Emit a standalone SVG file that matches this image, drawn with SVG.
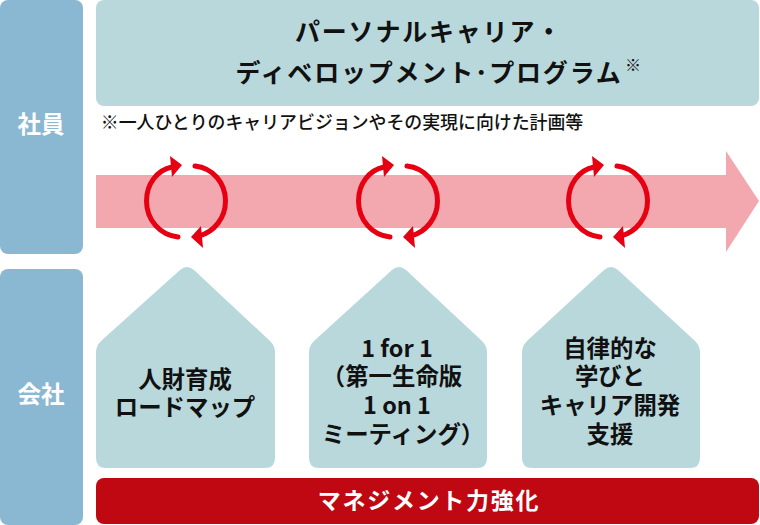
<svg xmlns="http://www.w3.org/2000/svg" width="760" height="525" viewBox="0 0 760 525">
<style>
text{font-family:"Noto Sans CJK JP","Noto Sans",sans-serif;font-weight:700;fill:#111;text-anchor:middle}
.side{fill:#fff;font-size:23.5px}
.pale{fill:#b9d8dc}
.blue{fill:#8ab8d2}
.nl{font-size:23.4px}
.arc{fill:none;stroke:#e60012;stroke-width:5;stroke-linecap:round}
.head{fill:#e60012}
</style>
<defs>
<g id="cycle">
<path class="arc" d="M178 237C160 235 146.5 220 146.5 201C146.5 184 157 170 172 167"/>
<path class="head" d="M170 156L182 165L172 177Z"/>
<path class="arc" d="M195 166C213 168 225.5 183 225.5 201C225.5 218 214 232 199 236"/>
<path class="head" d="M201 226L191 237L203 248Z"/>
</g>
</defs>
<g id="side-employee"><rect class="blue" x="0" y="0" width="83" height="254" rx="8"/><text class="side" x="41" y="133">社員</text></g>
<g id="side-company"><rect class="blue" x="0" y="269" width="83" height="256" rx="8"/><text class="side" x="41" y="403">会社</text></g>
<g id="plan"><rect class="pale" x="96" y="0" width="663" height="106" rx="8"/>
<text x="429" y="41" font-size="25" letter-spacing="1.8"><tspan>パーソナルキャリア・</tspan><tspan x="429" dy="41">ディベロップメント･プログラム</tspan></text>
<text x="633" y="71" font-size="16">※</text></g>
<text x="342" y="129" font-size="17.9" style="font-weight:500">※一人ひとりのキャリアビジョンやその実現に向けた計画等</text>
<g id="connectors">
<path id="main-arrow" fill="#f3a8b0" d="M96 175H726V151L759 201L726 252V228H96Z"/>
<use href="#cycle"/><use href="#cycle" x="212"/><use href="#cycle" x="422"/>
</g>
<g id="node-1"><path class="pale" d="M180 270Q187 264 194 270L270 341Q275 346 275 352V458Q275 468 265 468H106Q96 468 96 458V352Q96 346 101 341Z"/>
<text class="nl" x="185" y="388"><tspan>人財育成</tspan><tspan x="185" dy="28">ロードマップ</tspan></text></g>
<g id="node-2"><path class="pale" d="M392 270Q399 264 406 270L482 341Q487 346 487 352V458Q487 468 477 468H319Q309 468 309 458V352Q309 346 314 341Z"/>
<text class="nl" x="397" y="357"><tspan>1 for 1</tspan><tspan x="392" dy="28">（第一生命版</tspan><tspan x="397" dy="29">1 on 1</tspan><tspan x="403" dy="29">ミーティング）</tspan></text></g>
<g id="node-3"><path class="pale" d="M604 270Q611 264 618 270L695 341Q700 346 700 352V458Q700 468 690 468H532Q522 468 522 458V352Q522 346 527 341Z"/>
<text class="nl" x="610" y="357"><tspan>自律的な</tspan><tspan x="610" dy="28">学びと</tspan><tspan x="610" dy="29">キャリア開発</tspan><tspan x="610" dy="29">支援</tspan></text></g>
<g id="management"><rect x="96" y="478" width="663" height="46" rx="8" fill="#c00812"/><text x="429" y="509" font-size="23" letter-spacing="1.7" style="fill:#fff">マネジメント力強化</text></g>
</svg>
